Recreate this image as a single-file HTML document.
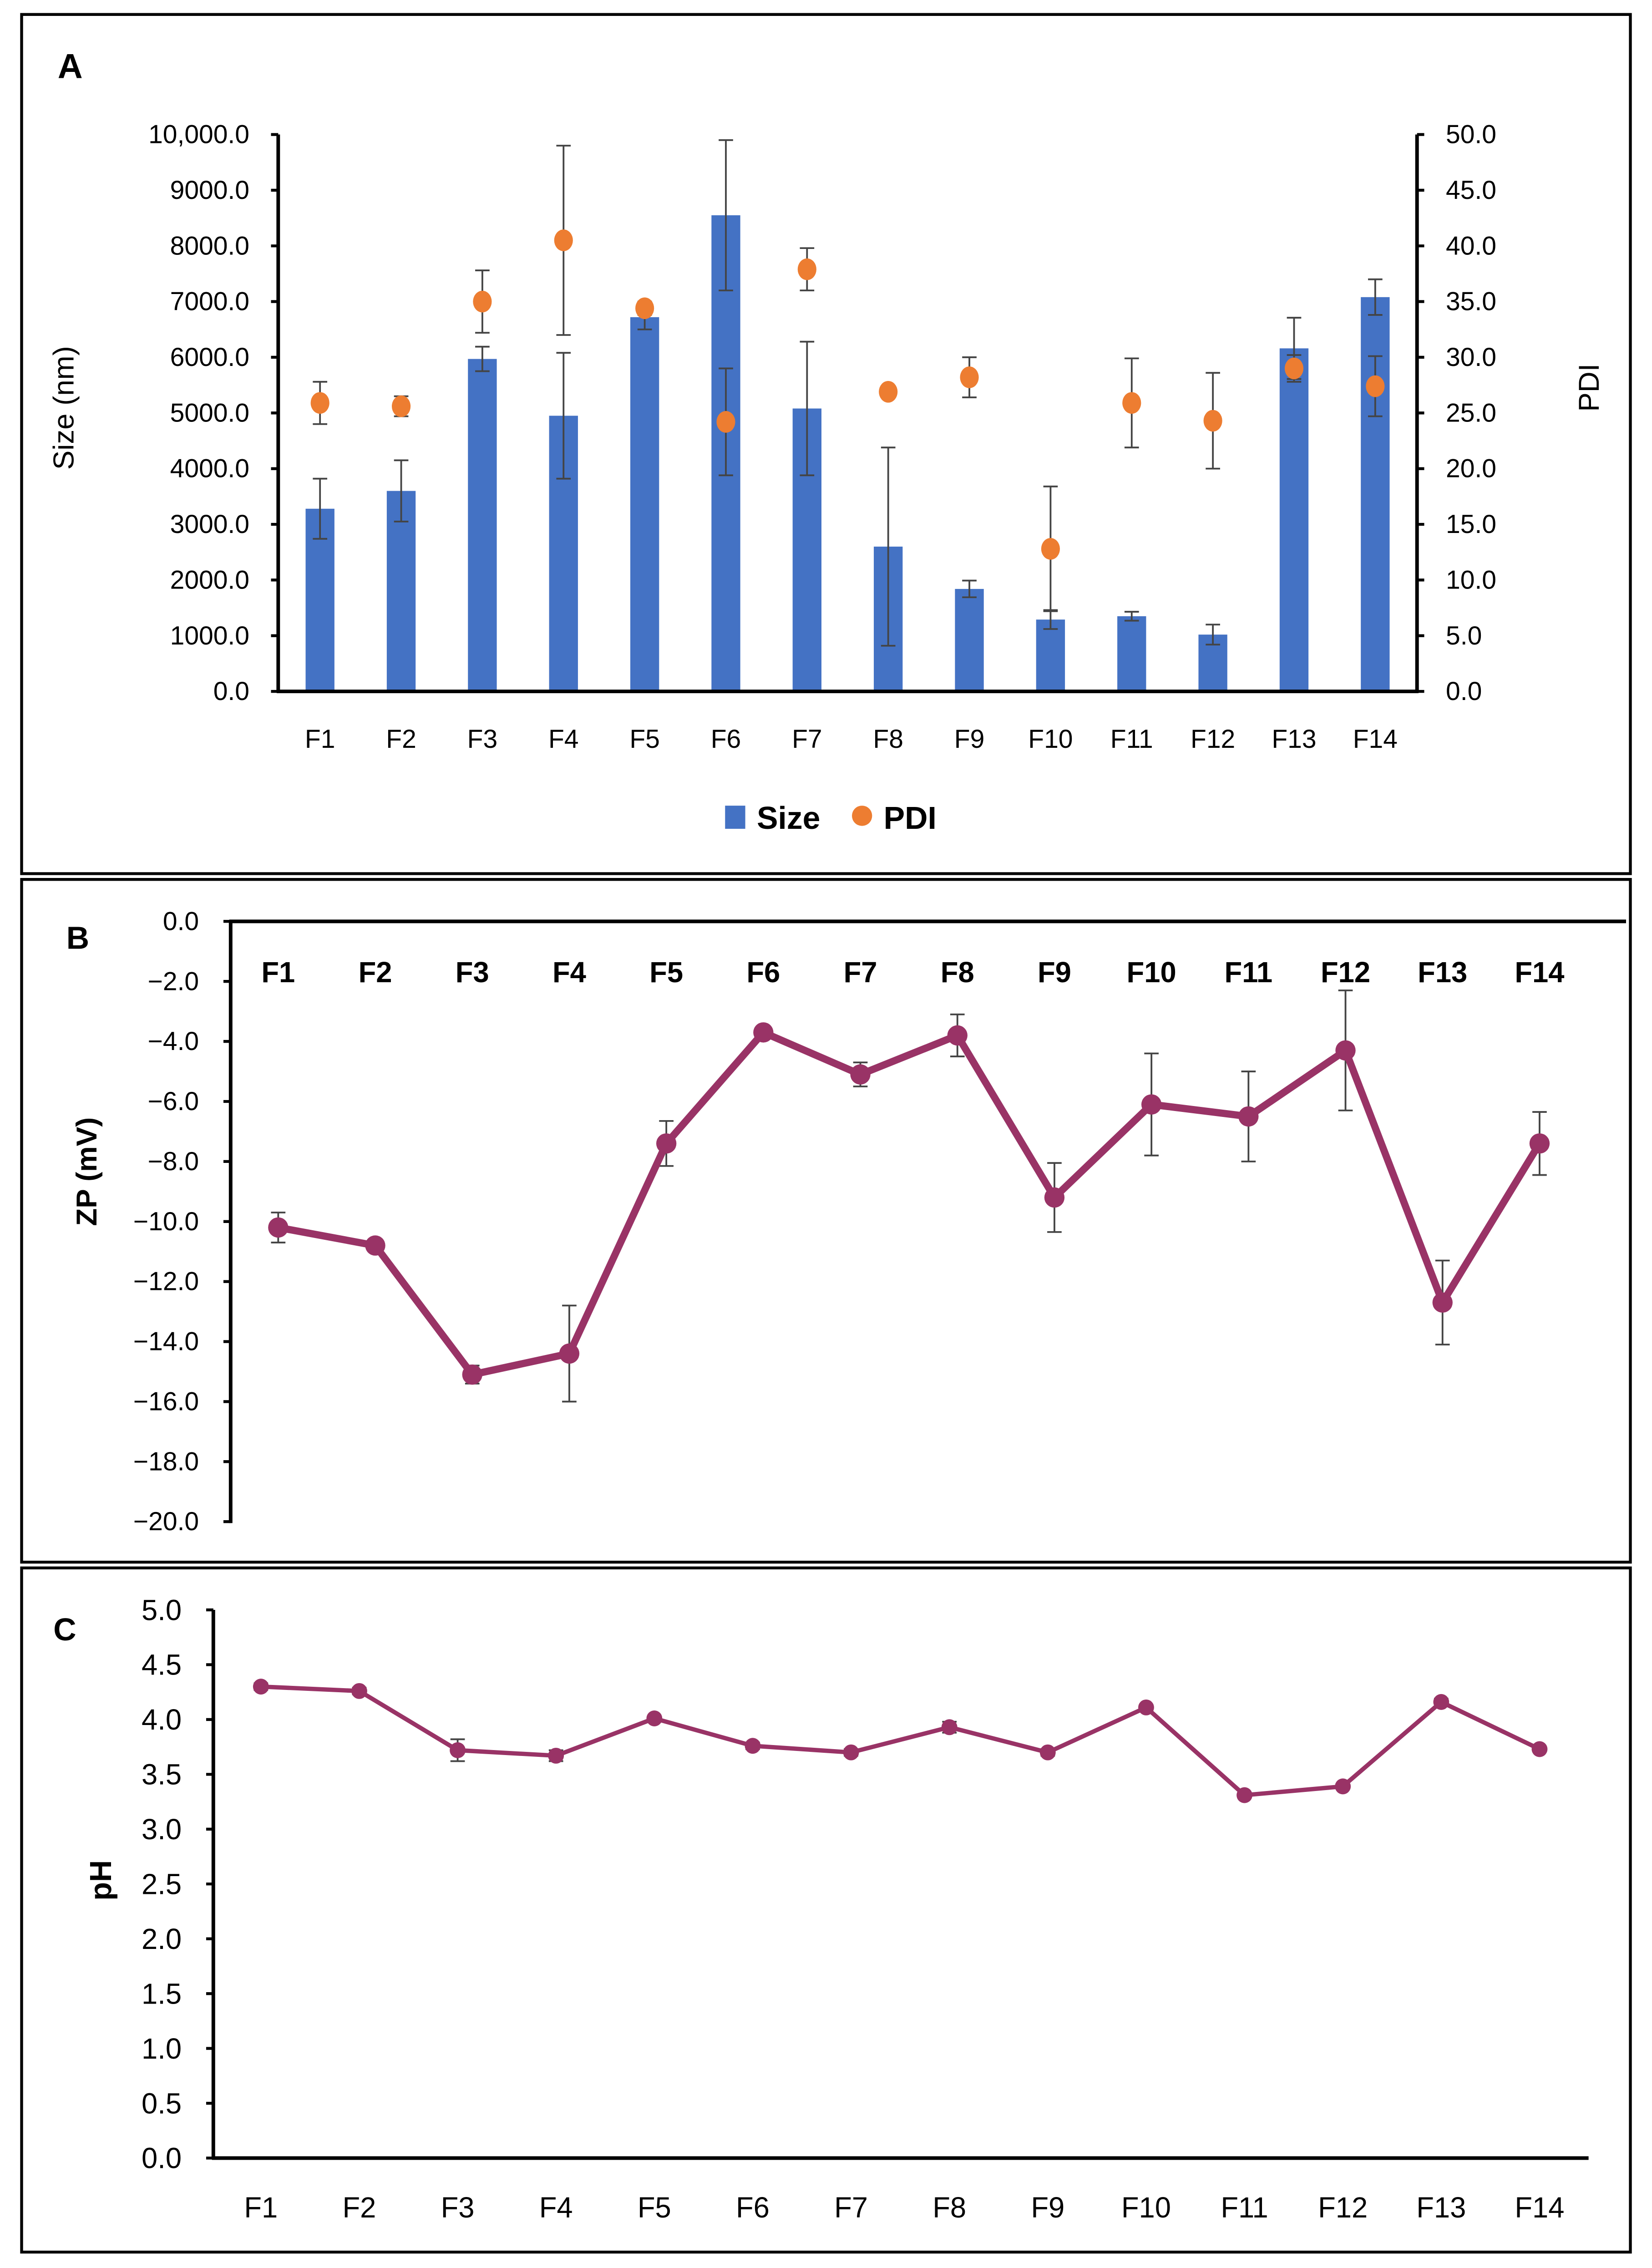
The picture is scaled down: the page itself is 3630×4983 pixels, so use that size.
<!DOCTYPE html>
<html><head><meta charset="utf-8"><style>
html,body{margin:0;padding:0;background:#fff}
svg{display:block}
text{font-family:"Liberation Sans",sans-serif;fill:#000}
</style></head><body>
<svg id="fig" width="3630" height="4983" viewBox="0 0 1146 1568" preserveAspectRatio="none" xmlns="http://www.w3.org/2000/svg">
<rect x="15" y="10" width="1116" height="594" fill="none" stroke="#000" stroke-width="2"/>
<rect x="15" y="608" width="1116" height="472" fill="none" stroke="#000" stroke-width="2"/>
<rect x="15" y="1084" width="1116" height="473" fill="none" stroke="#000" stroke-width="2"/>
<text x="40" y="54" font-size="24" font-weight="bold">A</text>
<text x="46" y="656" font-size="22" font-weight="bold">B</text>
<text x="37" y="1134" font-size="22" font-weight="bold">C</text>
<g id="ga"></g><g id="gb"></g><g id="gc"></g>
</svg>
<script>
const cats=["F1","F2","F3","F4","F5","F6","F7","F8","F9","F10","F11","F12","F13","F14"];
const sizeVals=[3280,3600,5970,4950,6720,8550,5080,2600,1840,1290,1350,1020,6160,7080];
const sizeErr=[540,550,220,1130,220,1350,1200,1780,150,170,80,180,550,320];
const pdiVals=[25.9,25.6,35.0,40.5,34.4,24.2,37.9,26.9,28.2,12.8,25.9,24.3,29.0,27.4];
const pdiErr=[1.9,0.9,2.8,8.5,0.6,4.8,1.9,0.5,1.8,5.6,4.0,4.3,1.2,2.7];
const sizeTicks=[0,1000,2000,3000,4000,5000,6000,7000,8000,9000,10000];
const sizeTickLabels=["0.0","1000.0","2000.0","3000.0","4000.0","5000.0","6000.0","7000.0","8000.0","9000.0","10,000.0"];
const pdiTicks=[0,5,10,15,20,25,30,35,40,45,50];
const zpVals=[-10.2,-10.8,-15.1,-14.4,-7.4,-3.7,-5.1,-3.8,-9.2,-6.1,-6.5,-4.3,-12.7,-7.4];
const zpErr=[0.5,0.15,0.3,1.6,0.75,0.1,0.4,0.7,1.15,1.7,1.5,2.0,1.4,1.05];
const zpTicks=[0,-2,-4,-6,-8,-10,-12,-14,-16,-18,-20];
const phVals=[4.30,4.26,3.72,3.67,4.01,3.76,3.70,3.93,3.70,4.11,3.31,3.39,4.16,3.73];
const phErr=[0.03,0.03,0.1,0.05,0.02,0.03,0.03,0.05,0.03,0.02,0.02,0.02,0.03,0.02];
const phTicks=[0,0.5,1,1.5,2,2.5,3,3.5,4,4.5,5];

const NS="http://www.w3.org/2000/svg";
function mk(parent,tag,attrs,txt){const e=document.createElementNS(NS,tag);for(const k in attrs)e.setAttribute(k,attrs[k]);if(txt!==undefined)e.textContent=txt;parent.appendChild(e);return e;}
function errbar(g,x,y1,y2,w){mk(g,'line',{x1:x,x2:x,y1:y1,y2:y2,stroke:'#444','stroke-width':1.2});mk(g,'line',{x1:x-w,x2:x+w,y1:y1,y2:y1,stroke:'#444','stroke-width':1.2});mk(g,'line',{x1:x-w,x2:x+w,y1:y2,y2:y2,stroke:'#444','stroke-width':1.2});}
function fmtNeg(v){return v===0?"0.0":"\u2212"+Math.abs(v).toFixed(1);}

// Panel A
(function(){
const g=document.getElementById('ga');
const x=i=>222+i*(954-222)/13, yS=v=>478-v*(478-93)/10000, yP=v=>478-v*(478-93)/50;
sizeTicks.forEach((t,i)=>{
 let tk=mk(g,'line',{x1:188,x2:193,y1:yS(t),y2:yS(t),stroke:'#000','stroke-width':2});
 
 
 let l=mk(g,'text',{x:173,y:yS(t)+6,'font-size':18,'text-anchor':'end'},sizeTickLabels[i]);
 
 
});
pdiTicks.forEach(t=>{
 mk(g,'line',{x1:983,x2:988,y1:yP(t),y2:yP(t),stroke:'#000','stroke-width':2});
 let l=mk(g,'text',{x:1003,y:yP(t)+6,'font-size':18},t.toFixed(1));
 
 
});
cats.forEach((c,i)=>{
 let b=mk(g,'rect',{x:x(i)-10,y:yS(sizeVals[i]),width:20,height:478-yS(sizeVals[i]),fill:'#4472C4'});
 
 
 errbar(g,x(i),yS(sizeVals[i]-sizeErr[i]),yS(sizeVals[i]+sizeErr[i]),5);
 let l=mk(g,'text',{x:x(i),y:517,'font-size':18,'text-anchor':'middle'},c);
 
 
});
cats.forEach((c,i)=>{
 errbar(g,x(i),yP(pdiVals[i]-pdiErr[i]),yP(pdiVals[i]+pdiErr[i]),5);
 let p=mk(g,'ellipse',{cx:x(i),cy:yP(pdiVals[i]),rx:6.5,ry:7.5,fill:'#ED7D31'});
 
 
});
mk(g,'line',{x1:193,x2:193,y1:93,y2:479,stroke:'#000','stroke-width':2.5});
mk(g,'line',{x1:983,x2:983,y1:93,y2:479,stroke:'#000','stroke-width':2.5});
mk(g,'line',{x1:192,x2:984,y1:478,y2:478,stroke:'#000','stroke-width':2.5});
let yt=mk(g,'text',{x:0,y:0,'font-size':20,'text-anchor':'middle',transform:'translate(51,282) rotate(-90)'},'Size (nm)');


let yt2=mk(g,'text',{x:0,y:0,'font-size':20,'text-anchor':'middle',transform:'translate(1109,268) rotate(-90)'},'PDI');


let lg=mk(g,'g',{});


mk(lg,'rect',{x:503,y:557,width:14,height:16,fill:'#4472C4'});
mk(lg,'text',{x:525,y:573,'font-size':22,'font-weight':'bold'},'Size');
mk(lg,'circle',{cx:598,cy:564,r:7,fill:'#ED7D31'});
mk(lg,'text',{x:613,y:573,'font-size':22,'font-weight':'bold'},'PDI');
})();

// Panel B
(function(){
const g=document.getElementById('gb');
const x=i=>193+i*(1068-193)/13, y=v=>637+(-v)*(1052-637)/20;
zpTicks.forEach(t=>{
 mk(g,'line',{x1:155,x2:160,y1:y(t),y2:y(t),stroke:'#000','stroke-width':2});
 let l=mk(g,'text',{x:138,y:y(t)+6,'font-size':18,'text-anchor':'end'},fmtNeg(t));
 
 
});
mk(g,'line',{x1:160,x2:160,y1:637,y2:1053,stroke:'#000','stroke-width':2.5});
mk(g,'line',{x1:159,x2:1128,y1:637,y2:637,stroke:'#000','stroke-width':2.5});
cats.forEach((c,i)=>{
 let l=mk(g,'text',{x:x(i),y:679,'font-size':20,'font-weight':'bold','text-anchor':'middle'},c);
 
 
 errbar(g,x(i),y(zpVals[i]-zpErr[i]),y(zpVals[i]+zpErr[i]),5);
});
let ln=mk(g,'polyline',{points:zpVals.map((v,i)=>x(i)+','+y(v)).join(' '),fill:'none',stroke:'#993366','stroke-width':5,'stroke-linejoin':'round'});


zpVals.forEach((v,i)=>{
 let p=mk(g,'circle',{cx:x(i),cy:y(v),r:7,fill:'#993366'});
 
 
});
let yt=mk(g,'text',{x:0,y:0,'font-size':20,'font-weight':'bold','text-anchor':'middle',transform:'translate(67,810) rotate(-90)'},'ZP (mV)');


})();

// Panel C
(function(){
const g=document.getElementById('gc');
const x=i=>181+i*(1068-181)/13, y=v=>1492-v*(1492-1113)/5;
phTicks.forEach(t=>{
 mk(g,'line',{x1:143,x2:148,y1:y(t),y2:y(t),stroke:'#000','stroke-width':2});
 let l=mk(g,'text',{x:126,y:y(t)+7,'font-size':20,'text-anchor':'end'},t.toFixed(1));
 
 
});
mk(g,'line',{x1:148,x2:148,y1:1113,y2:1493,stroke:'#000','stroke-width':2.5});
mk(g,'line',{x1:147,x2:1102,y1:1492,y2:1492,stroke:'#000','stroke-width':2.5});
cats.forEach((c,i)=>{
 let l=mk(g,'text',{x:x(i),y:1533,'font-size':20,'text-anchor':'middle'},c);
 
 
 errbar(g,x(i),y(phVals[i]-phErr[i]),y(phVals[i]+phErr[i]),5);
});
let ln=mk(g,'polyline',{points:phVals.map((v,i)=>x(i)+','+y(v)).join(' '),fill:'none',stroke:'#993366','stroke-width':3,'stroke-linejoin':'round'});


phVals.forEach((v,i)=>{
 let p=mk(g,'circle',{cx:x(i),cy:y(v),r:5.5,fill:'#993366'});
 
 
});
let yt=mk(g,'text',{x:0,y:0,'font-size':21,'font-weight':'bold','text-anchor':'middle',transform:'translate(77,1300) rotate(-90)'},'pH');


})();
</script>
</body></html>
